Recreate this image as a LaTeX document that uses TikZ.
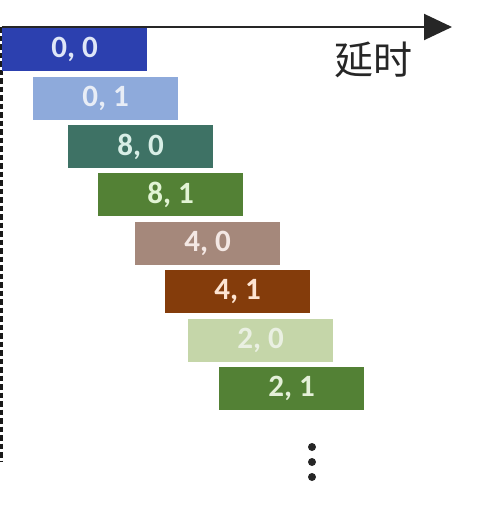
\documentclass[tikz,border=0pt]{standalone}
\usepackage{fontspec}
\setmainfont{Carlito}
\newfontfamily\cjk{Noto Sans CJK SC}
\usepackage{tikz}
\usetikzlibrary{arrows.meta}

\definecolor{blueA}{HTML}{2C40AF}
\definecolor{blueB}{HTML}{8EAADB}
\definecolor{tealA}{HTML}{3E7265}
\definecolor{greenA}{HTML}{538135}
\definecolor{tanA}{HTML}{A5887B}
\definecolor{brownA}{HTML}{843C0B}
\definecolor{greenB}{HTML}{C5D6A9}

\tikzset{
    slot/.style = {rectangle, inner sep = 0pt, minimum width = 145pt, minimum height = 43pt,
                   font = \bfseries\fontsize{31}{36}\selectfont},
    axis/.style = {line width = 2pt, -{Triangle[length=28pt, width=26pt]}, color = black!85}
}

\begin{document}
\begin{tikzpicture}[x = 1pt, y = -1pt]

            \useasboundingbox (0,0) rectangle (480,512);

            \coordinate (top) at (1.7,27);
            \coordinate (bottom) at (1.7,461);
            \coordinate (tip) at (452,27);
            \draw[line width = 3.4pt, dash pattern = on 5.5pt off 3pt, color = black!90] (top) -- (bottom);
            \draw[axis] (top) -- (tip);
            \node[font = \cjk\fontsize{39}{40}\selectfont, text = black!85] (delay) at (373,60) {延时};

            \node[slot, fill = blueA, text = {rgb,255:red,223;green,230;blue,247}] (s00) at (74.5,49.5) {0, 0};
            \node[slot, fill = blueB, text = {rgb,255:red,232;green,237;blue,246}] (s01) at (105.5,98.5) {0, 1};
            \node[slot, fill = tealA, text = {rgb,255:red,216;green,238;blue,230}] (s80) at (140.5,146.5) {8, 0};
            \node[slot, fill = greenA, text = {rgb,255:red,226;green,244;blue,212}] (s81) at (170.5,194.5) {8, 1};
            \node[slot, fill = tanA, text = {rgb,255:red,244;green,232;blue,228}] (s40) at (207.5,243.5) {4, 0};
            \node[slot, fill = brownA, text = {rgb,255:red,253;green,228;blue,210}] (s41) at (237.5,291.5) {4, 1};
            \node[slot, fill = greenB, text = {rgb,255:red,234;green,240;blue,226}] (s20) at (260.5,340.5) {2, 0};
            \node[slot, fill = greenA, text = {rgb,255:red,228;green,240;blue,216}] (s21) at (291.5,388.5) {2, 1};

            \foreach \y in {447,462,477}
                \fill[black!85] (312,\y) circle (4pt);

        \end{tikzpicture}
\end{document}
